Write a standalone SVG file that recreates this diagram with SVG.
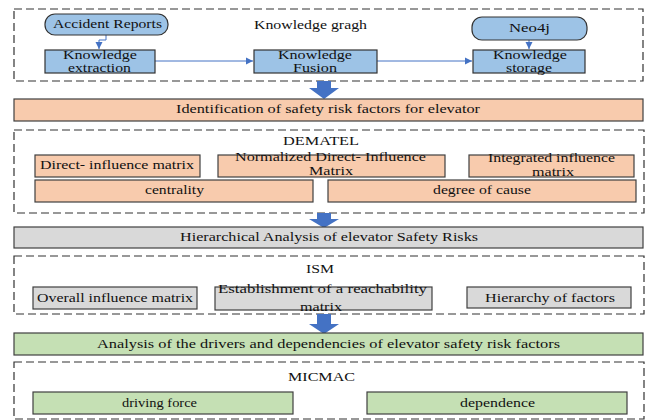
<svg xmlns="http://www.w3.org/2000/svg" width="647" height="420" viewBox="0 0 647 420">
<defs>
<style>
text{font-family:'Liberation Serif','DejaVu Serif',serif;font-size:12.5px;fill:#111}
.dash{fill:none;stroke:#333;stroke-width:1.2;stroke-dasharray:8 4}
.blue{fill:#9DC3E6;stroke:#333;stroke-width:1.2}
.org{fill:#F8CBAD;stroke:#404040;stroke-width:1.2}
.gry{fill:#D9D9D9;stroke:#404040;stroke-width:1.2}
.grn{fill:#C5E0B4;stroke:#404040;stroke-width:1.2}
.con{fill:none;stroke:#4472C4;stroke-width:1}
.big{fill:#4472C4}
</style>
<marker id="ah" markerWidth="8" markerHeight="8" refX="7" refY="4" orient="auto" markerUnits="userSpaceOnUse">
<path d="M0,0.5 L7,4 L0,7.5 Z" fill="#4472C4"/>
</marker>
</defs>
<rect width="647" height="420" fill="#fff"/>
<g font-family="Liberation Serif, DejaVu Serif, serif">

<g id="containers">
<rect class="dash" x="14" y="9" width="629" height="72"/>
<text x="254" y="29" textLength="113" lengthAdjust="spacingAndGlyphs">Knowledge gragh</text>
<rect class="dash" x="14" y="130" width="630" height="83"/>
<text x="283" y="145" textLength="76" lengthAdjust="spacingAndGlyphs">DEMATEL</text>
<rect class="dash" x="14" y="256" width="630" height="58"/>
<text x="306" y="273" textLength="28" lengthAdjust="spacingAndGlyphs">ISM</text>
<rect class="dash" x="14" y="362" width="630" height="57"/>
<text x="288" y="381" textLength="67" lengthAdjust="spacingAndGlyphs">MICMAC</text>
</g>

<g id="connectors">
<path class="con" d="M106,35 V40 H99 V49" marker-end="url(#ah)"/>
<path class="con" d="M529,40 V49" marker-end="url(#ah)"/>
<path class="con" d="M155,61 H253" marker-end="url(#ah)"/>
<path class="con" d="M377,61 H472" marker-end="url(#ah)"/>
<path class="big" d="M317,81 H331 V88 H339 L324,99 L309,88 H317 Z"/>
<path class="big" d="M317,213 H331 V219 H339 L324,228 L309,219 H317 Z"/>
<path class="big" d="M317,314 H331 V324 H339 L324,334 L309,324 H317 Z"/>
</g>

<g id="accident-reports">
<rect class="blue" x="45" y="14" width="123" height="21" rx="10"/>
<text x="53" y="28" textLength="109" lengthAdjust="spacingAndGlyphs">Accident Reports</text>
</g>
<g id="neo4j">
<rect class="blue" x="472" y="17" width="115" height="23" rx="10"/>
<text x="509" y="32" textLength="41" lengthAdjust="spacingAndGlyphs">Neo4j</text>
</g>
<g id="knowledge-extraction">
<rect class="blue" x="45" y="50" width="110" height="23"/>
<text x="63" y="59" textLength="74" lengthAdjust="spacingAndGlyphs">Knowledge</text>
<text x="68" y="71.5" textLength="63" lengthAdjust="spacingAndGlyphs">extraction</text>
</g>
<g id="knowledge-fusion">
<rect class="blue" x="254" y="50" width="123" height="23"/>
<text x="278" y="59" textLength="74" lengthAdjust="spacingAndGlyphs">Knowledge</text>
<text x="293" y="71.5" textLength="44" lengthAdjust="spacingAndGlyphs">Fusion</text>
</g>
<g id="knowledge-storage">
<rect class="blue" x="473" y="50" width="112" height="23"/>
<text x="493" y="59" textLength="74" lengthAdjust="spacingAndGlyphs">Knowledge</text>
<text x="506" y="71.5" textLength="46" lengthAdjust="spacingAndGlyphs">storage</text>
</g>

<g id="identification">
<rect class="org" x="14" y="99" width="629" height="22"/>
<text x="176" y="113" textLength="304" lengthAdjust="spacingAndGlyphs">Identification of safety risk factors for  elevator</text>
</g>
<g id="direct-influence">
<rect class="org" x="35" y="155" width="165" height="22"/>
<text x="40" y="169" textLength="154" lengthAdjust="spacingAndGlyphs">Direct- influence matrix</text>
</g>
<g id="normalized">
<rect class="org" x="218" y="155" width="227" height="22"/>
<text x="235" y="161" textLength="191" lengthAdjust="spacingAndGlyphs">Normalized Direct- Influence</text>
<text x="309" y="174.5" textLength="44" lengthAdjust="spacingAndGlyphs">Matrix</text>
</g>
<g id="integrated">
<rect class="org" x="469" y="155" width="165" height="22"/>
<text x="488" y="162" textLength="127" lengthAdjust="spacingAndGlyphs">Integrated influence</text>
<text x="532" y="176" textLength="42" lengthAdjust="spacingAndGlyphs">matrix</text>
</g>
<g id="centrality">
<rect class="org" x="35" y="180" width="278" height="22"/>
<text x="145" y="194" textLength="59" lengthAdjust="spacingAndGlyphs">centrality</text>
</g>
<g id="degree-of-cause">
<rect class="org" x="328" y="180" width="308" height="22"/>
<text x="433" y="194" textLength="98" lengthAdjust="spacingAndGlyphs">degree of cause</text>
</g>

<g id="hierarchical">
<rect class="gry" x="14" y="227" width="629" height="21"/>
<text x="180" y="241" textLength="298" lengthAdjust="spacingAndGlyphs">Hierarchical Analysis of  elevator Safety Risks</text>
</g>
<g id="overall">
<rect class="gry" x="33" y="287" width="164" height="22"/>
<text x="37" y="302" textLength="156" lengthAdjust="spacingAndGlyphs">Overall influence matrix</text>
</g>
<g id="reachability">
<rect class="gry" x="215" y="287" width="217" height="23"/>
<text x="218" y="293" textLength="209" lengthAdjust="spacingAndGlyphs">Establishment of a reachability</text>
<text x="300" y="311" textLength="42" lengthAdjust="spacingAndGlyphs">matrix</text>
</g>
<g id="hierarchy">
<rect class="gry" x="467" y="287" width="164" height="21"/>
<text x="485" y="302" textLength="130" lengthAdjust="spacingAndGlyphs">Hierarchy of factors</text>
</g>

<g id="analysis">
<rect class="grn" x="14" y="333" width="629" height="22"/>
<text x="97" y="348" textLength="463" lengthAdjust="spacingAndGlyphs">Analysis of the drivers and dependencies of   elevator safety risk factors</text>
</g>
<g id="driving-force">
<rect class="grn" x="33" y="392" width="260" height="22"/>
<text x="122" y="407" textLength="75" lengthAdjust="spacingAndGlyphs">driving force</text>
</g>
<g id="dependence">
<rect class="grn" x="367" y="392" width="260" height="22"/>
<text x="460" y="407" textLength="75" lengthAdjust="spacingAndGlyphs">dependence</text>
</g>
</g>
</svg>
